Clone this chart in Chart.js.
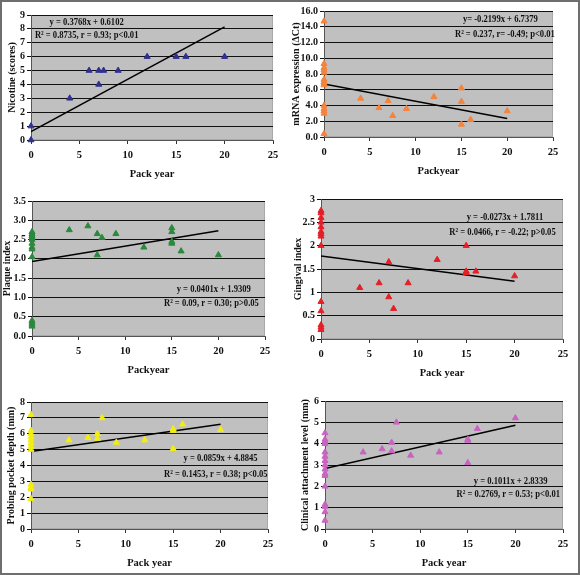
<!DOCTYPE html>
<html>
<head>
<meta charset="utf-8">
<script src="https://cdn.jsdelivr.net/npm/chart.js@4.4.1/dist/chart.umd.min.js"></script>
<style>
    body { margin: 0; background: #fff; }
    #frame { position: relative; width: 576px; height: 571px; border: 2px solid #6e6e6e; background: #fff; overflow: hidden; }
    canvas { position: absolute; }
</style>
</head>
<body>
<div id="frame"></div>
<script>
// Nicotine
const nicotineX = [0, 0, 4, 6, 7, 7, 7.5, 9, 12, 15, 16, 20];
const nicotineY = [0, 1, 3, 5, 4, 5, 5, 5, 6, 6, 6, 6];
const nicotineFit = [[0, 0.61], [20, 8.15]];

// mRNA expression
const mrnaX = [0, 0, 0, 0, 0, 0, 0, 0, 0, 0, 0, 0, 0, 0, 4, 6, 7, 7.5, 9, 12, 15, 15, 15, 16, 20];
const mrnaY = [14.7, 9.3, 8.8, 8.5, 8.2, 7.3, 7.0, 6.8, 6.6, 4.0, 3.6, 3.3, 3.0, 0.4, 4.9, 3.7, 4.6, 2.7, 3.6, 5.1, 6.2, 4.5, 1.6, 2.2, 3.3];
const mrnaFit = [[0, 6.74], [20, 2.34]];

// Plaque index
const plaqueX = [0, 0, 0, 0, 0, 0, 0, 0, 0, 0, 0, 0, 0, 4, 6, 7, 7, 7.5, 9, 12, 15, 15, 15, 15, 16, 20];
const plaqueY = [2.7, 2.65, 2.6, 2.55, 2.5, 2.4, 2.3, 2.25, 2.05, 0.4, 0.35, 0.3, 0.25, 2.75, 2.85, 2.65, 2.1, 2.55, 2.65, 2.3, 2.8, 2.7, 2.45, 2.4, 2.2, 2.1];
const plaqueFit = [[0, 1.93], [20, 2.73]];

// Gingival index
const gingX = [0, 0, 0, 0, 0, 0, 0, 0, 0, 0, 0, 0, 0, 0, 4, 6, 7, 7, 7.5, 9, 12, 15, 15, 15, 16, 20];
const gingY = [2.75, 2.7, 2.6, 2.5, 2.4, 2.3, 2.25, 2.2, 2.0, 0.8, 0.6, 0.3, 0.25, 0.2, 1.1, 1.2, 1.65, 0.9, 0.65, 1.2, 1.7, 2.0, 1.45, 1.42, 1.45, 1.35];
const gingFit = [[0, 1.78], [20, 1.235]];

// Probing pocket depth
const ppdX = [0, 0, 0, 0, 0, 0, 0, 0, 0, 0, 0, 0, 4, 6, 7, 7, 7.5, 9, 12, 15, 15, 15, 16, 20];
const ppdY = [7.2, 6.2, 6.0, 5.8, 5.6, 5.4, 5.2, 5.0, 2.8, 2.6, 2.5, 1.9, 5.6, 5.75, 6.0, 5.7, 7.0, 5.45, 5.6, 6.3, 6.2, 5.05, 6.6, 6.25];
const ppdFit = [[0, 4.88], [20, 6.60]];

// Clinical attachment level
const calX = [0, 0, 0, 0, 0, 0, 0, 0, 0, 0, 0, 0, 0, 0, 0, 0, 4, 6, 7, 7, 7.5, 9, 12, 15, 15, 15, 16, 20];
const calY = [4.5, 4.2, 4.1, 4.0, 3.6, 3.4, 3.2, 3.0, 2.8, 2.6, 2.5, 2.0, 1.15, 1.05, 0.8, 0.4, 3.6, 3.75, 4.05, 3.65, 5.0, 3.45, 3.6, 4.2, 4.15, 3.1, 4.7, 5.2];
const calFit = [[0, 2.83], [20, 4.86]];

const FONT = "'Liberation Serif', 'DejaVu Serif', serif";
const X_AXIS_H = 45;
const PAD_TOP = 8;
const PAD_RIGHT = 12;

// area = plot left, right, top, bottom (page px); yW = y-axis box width; tPad = y title offset
const panels = [
    { xs: nicotineX, ys: nicotineY, fit: nicotineFit, color: '#2f318f', yTitle: 'Nicotine (scores)', xTitle: 'Pack year',
      yMax: 9, yStep: 1, dec: 0, area: [31, 273, 15, 140], yW: 31, tPad: 6,
      notes: [['y = 0.3768x + 0.6102', 0.23, 0.06], ['R² = 0.8735, r = 0.93; p<0.01', 0.23, 0.16]] },
    { xs: mrnaX, ys: mrnaY, fit: mrnaFit, color: '#f4843c', yTitle: 'mRNA expression (ΔCt)', xTitle: 'Packyear',
      yMax: 16, yStep: 2, dec: 1, area: [324, 553, 11, 137], yW: 34, tPad: 0,
      notes: [['y= -0.2199x + 6.7379', 0.77, 0.065], ['R² = 0.237, r= -0.49; p<0.01', 0.79, 0.18]] },
    { xs: plaqueX, ys: plaqueY, fit: plaqueFit, color: '#2a8a3c', yTitle: 'Plaque index', xTitle: 'Packyear',
      yMax: 3.5, yStep: 0.5, dec: 1, area: [32, 265, 201, 336], yW: 32, tPad: 1,
      notes: [['y = 0.0401x + 1.9309', 0.78, 0.65], ['R² = 0.09, r = 0.30; p>0.05', 0.77, 0.76]] },
    { xs: gingX, ys: gingY, fit: gingFit, color: '#e51f27', yTitle: 'Gingival index', xTitle: 'Pack year',
      yMax: 3, yStep: 0.5, dec: -1, area: [321, 563, 199, 339], yW: 31, tPad: 2,
      notes: [['y = -0.0273x + 1.7811', 0.76, 0.13], ['R² = 0.0466, r = -0.22; p>0.05', 0.75, 0.24]] },
    { xs: ppdX, ys: ppdY, fit: ppdFit, color: '#f2ee10', yTitle: 'Probing pocket depth (mm)', xTitle: 'Pack year',
      yMax: 8, yStep: 1, dec: 0, area: [31, 268, 402, 529], yW: 31, tPad: 5,
      notes: [['y = 0.0859x + 4.8845', 0.80, 0.44], ['R² = 0.1453, r = 0.38; p<0.05', 0.78, 0.57]] },
    { xs: calX, ys: calY, fit: calFit, color: '#c864c0', yTitle: 'Clinical attachment level (mm)', xTitle: 'Pack year',
      yMax: 6, yStep: 1, dec: 0, area: [325, 563, 401, 529], yW: 35, tPad: 9,
      notes: [['y = 0.1011x + 2.8339', 0.78, 0.625], ['R² = 0.2769, r = 0.53; p<0.01', 0.77, 0.73]] }
];

// grey plot background
const plotBg = {
    id: 'plotBg',
    beforeDraw(chart) {
        const a = chart.chartArea;
        const ctx = chart.ctx;
        ctx.save();
        ctx.fillStyle = '#c0c0c0';
        ctx.fillRect(a.left, a.top, a.right - a.left, a.bottom - a.top);
        ctx.strokeStyle = '#a8a8a8';
        ctx.lineWidth = 1;
        ctx.strokeRect(a.left + 0.5, a.top + 0.5, a.right - a.left - 1, a.bottom - a.top - 1);
        ctx.restore();
    }
};

// equation text (condensed like the original)
const notesPlugin = {
    id: 'notes',
    afterDatasetsDraw(chart, args, opts) {
        const a = chart.chartArea;
        const ctx = chart.ctx;
        ctx.save();
        ctx.fillStyle = '#111';
        ctx.font = 'bold 11px ' + FONT;
        ctx.textAlign = 'center';
        ctx.textBaseline = 'middle';
        opts.items.forEach(n => {
            const x = a.left + n[1] * (a.right - a.left);
            const y = a.top + n[2] * (a.bottom - a.top);
            ctx.save();
            ctx.translate(x, y);
            ctx.scale(0.78, 1);
            ctx.fillText(n[0], 0, 0);
            ctx.restore();
        });
        ctx.restore();
    }
};

const frame = document.getElementById('frame');

panels.forEach(p => {
    const [L, R, T, B] = p.area;
    const canvas = document.createElement('canvas');
    const w = (R - L) + p.yW + PAD_RIGHT;
    const h = (B - T) + PAD_TOP + X_AXIS_H;
    canvas.width = w;
    canvas.height = h;
    canvas.style.width = w + 'px';
    canvas.style.height = h + 'px';
    // frame has 2px border, children are positioned inside it
    canvas.style.left = (L - p.yW - 2) + 'px';
    canvas.style.top = (T - PAD_TOP - 2) + 'px';
    frame.appendChild(canvas);

    const points = p.xs.map((x, i) => ({ x: x, y: p.ys[i] }));
    const line = p.fit.map(d => ({ x: d[0], y: d[1] }));

    new Chart(canvas.getContext('2d'), {
        type: 'scatter',
        data: {
            datasets: [
                {
                    data: points,
                    pointStyle: 'triangle',
                    pointRadius: 3.5,
                    backgroundColor: p.color,
                    borderColor: p.color,
                    borderWidth: 1,
                    clip: false
                },
                {
                    type: 'line',
                    data: line,
                    borderColor: '#000',
                    borderWidth: 1.5,
                    pointRadius: 0,
                    fill: false
                }
            ]
        },
        options: {
            responsive: false,
            animation: false,
            layout: { padding: { top: PAD_TOP, right: PAD_RIGHT, left: 0, bottom: 0 } },
            plugins: {
                legend: { display: false },
                tooltip: { enabled: false },
                notes: { items: p.notes }
            },
            scales: {
                x: {
                    type: 'linear',
                    min: 0,
                    max: 25,
                    afterFit: s => { s.height = X_AXIS_H; },
                    ticks: { stepSize: 5, color: '#111', font: { family: FONT, size: 10.5, weight: 'bold' }, padding: 5 },
                    grid: { drawOnChartArea: false, tickLength: 4, color: '#333' },
                    border: { color: '#555' },
                    title: { display: true, text: p.xTitle, color: '#111', font: { family: FONT, size: 10.5, weight: 'bold' }, padding: { top: 2, bottom: 4 } }
                },
                y: {
                    min: 0,
                    max: p.yMax,
                    afterFit: s => { s.width = p.yW; },
                    ticks: {
                        stepSize: p.yStep,
                        autoSkip: false,
                        color: '#111',
                        padding: 2,
                        font: { family: FONT, size: 10, weight: 'bold' },
                        callback: v => p.dec >= 0 ? v.toFixed(p.dec) : String(v)
                    },
                    grid: { color: '#111', lineWidth: 1, tickLength: 4 },
                    border: { color: '#555' },
                    title: { display: true, text: p.yTitle, color: '#111', font: { family: FONT, size: 10, weight: 'bold' }, padding: { top: p.tPad, bottom: 0 } }
                }
            }
        },
        plugins: [plotBg, notesPlugin]
    });
});
</script>
</body>
</html>
